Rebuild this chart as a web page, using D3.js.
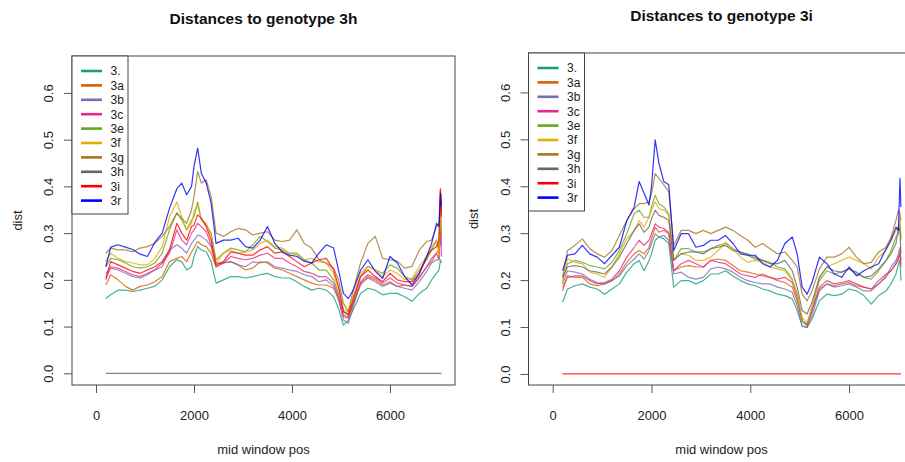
<!DOCTYPE html>
<html>
<head>
<meta charset="utf-8">
<script src="https://cdn.jsdelivr.net/npm/d3@7"></script>
<style>
  body { margin: 0; background: #fff; }
  svg { display: block; font-family: "Liberation Sans", Arial, sans-serif; }
</style>
</head>
<body>
<svg width="905" height="462"></svg>
<script>
// Sliding-window distances

const genotypes = ["3.", "3a", "3b", "3c", "3e", "3f", "3g", "3h", "3i", "3r"];
const xTicks = [0, 2000, 4000, 6000];
const yTicks = [0, 0.1, 0.2, 0.3, 0.4, 0.5, 0.6];

// mid window positions
const pos = [200, 300, 450, 600, 750, 900, 1050, 1200, 1350, 1500,
  1650, 1750, 1850, 1950, 2000, 2075, 2150, 2250, 2350, 2450,
  2600, 2750, 2900, 3050, 3200, 3350, 3500, 3650, 3800, 3950,
  4100, 4250, 4400, 4550, 4700, 4850, 4950, 5050, 5150, 5250,
  5400, 5550, 5700, 5850, 6000, 6150, 6300, 6450, 6600, 6750,
  6850, 6950, 7000, 7030, 7050];

// distances to genotype 3h
const toH_3 = [.16, .168, .178, .178, .175, .178, .182, .186, .20, .228,
  .243, .239, .221, .228, .25, .271, .264, .26, .239, .193,
  .20, .207, .207, .204, .207, .211, .214, .207, .204, .204,
  .196, .186, .178, .182, .178, .164, .139, .103, .114, .136,
  .171, .182, .178, .168, .171, .171, .164, .154, .171, .182,
  .20, .214, .221, .243, .236];
const toH_3a = [.189, .211, .20, .186, .178, .186, .189, .196, .207, .239,
  .246, .25, .239, .26, .268, .282, .275, .271, .257, .228,
  .236, .239, .232, .221, .225, .239, .236, .225, .221, .214,
  .207, .20, .193, .189, .189, .182, .16, .125, .121, .15,
  .189, .207, .20, .189, .196, .186, .189, .186, .207, .228,
  .239, .257, .264, .396, .343];
const toH_3b = [.214, .225, .221, .214, .207, .204, .211, .221, .228, .264,
  .275, .268, .257, .278, .285, .296, .293, .285, .271, .236,
  .236, .239, .232, .228, .239, .236, .239, .228, .225, .221,
  .218, .211, .207, .196, .20, .186, .157, .114, .107, .143,
  .193, .204, .196, .186, .193, .186, .182, .178, .196, .218,
  .236, .243, .243, .307, .271];
const toH_3c = [.20, .228, .225, .218, .211, .207, .214, .221, .236, .257,
  .307, .285, .275, .30, .307, .321, .314, .303, .275, .228,
  .236, .25, .246, .243, .246, .253, .257, .246, .246, .236,
  .228, .218, .214, .207, .207, .193, .164, .121, .118, .15,
  .196, .211, .204, .193, .204, .193, .189, .186, .204, .228,
  .246, .257, .243, .328, .25];
const toH_3e = [.228, .246, .243, .236, .228, .225, .228, .236, .257, .307,
  .343, .328, .307, .328, .335, .367, .328, .317, .30, .243,
  .257, .268, .264, .26, .275, .293, .282, .268, .264, .257,
  .257, .243, .236, .221, .221, .20, .171, .132, .128, .164,
  .207, .229, .221, .214, .232, .225, .207, .20, .221, .243,
  .264, .285, .264, .364, .293];
const toH_3f = [.239, .257, .246, .239, .236, .232, .232, .246, .271, .335,
  .367, .335, .307, .321, .346, .36, .328, .321, .293, .236,
  .257, .264, .257, .26, .264, .278, .285, .271, .268, .257,
  .253, .243, .246, .239, .236, .214, .178, .136, .132, .164,
  .214, .229, .221, .207, .221, .214, .20, .204, .229, .25,
  .271, .285, .25, .378, .307];
const toH_3g = [.257, .268, .264, .264, .26, .268, .271, .278, .293, .314,
  .343, .332, .321, .35, .378, .432, .407, .414, .378, .30,
  .293, .303, .31, .307, .296, .30, .303, .285, .282, .285,
  .307, .278, .268, .243, .236, .225, .20, .15, .132, .178,
  .236, .278, .293, .246, .243, .24, .225, .229, .264, .282,
  .285, .314, .321, .392, .343];
const toH_3h = [0, 0, 0, 0, 0, 0, 0, 0, 0, 0,
  0, 0, 0, 0, 0, 0, 0, 0, 0, 0,
  0, 0, 0, 0, 0, 0, 0, 0, 0, 0,
  0, 0, 0, 0, 0, 0, 0, 0, 0, 0,
  0, 0, 0, 0, 0, 0, 0, 0, 0, 0,
  0, 0, 0, 0, 0];
const toH_3i = [.203, .239, .232, .225, .218, .214, .221, .228, .239, .264,
  .321, .30, .285, .314, .317, .339, .332, .314, .285, .232,
  .239, .26, .257, .253, .253, .264, .271, .257, .26, .25,
  .239, .228, .236, .243, .246, .221, .186, .132, .125, .157,
  .207, .221, .207, .196, .214, .20, .196, .196, .214, .25,
  .264, .271, .285, .392, .335];
const toH_3r = [.228, .27, .275, .27, .265, .255, .25, .28, .30, .353,
  .395, .407, .382, .40, .443, .482, .428, .407, .364, .278,
  .285, .285, .289, .271, .268, .285, .314, .278, .26, .253,
  .25, .24, .236, .257, .275, .268, .221, .171, .16, .178,
  .221, .243, .218, .203, .25, .236, .207, .189, .214, .25,
  .278, .321, .314, .385, .357];

// distances to genotype 3i
const toI_3 = [.153, .181, .188, .192, .185, .181, .17, .181, .192, .217,
  .235, .242, .22, .242, .256, .285, .292, .288, .278, .185,
  .199, .199, .192, .199, .213, .213, .22, .209, .199, .192,
  .188, .181, .177, .17, .167, .16, .135, .102, .099, .117,
  .156, .17, .167, .17, .181, .177, .167, .149, .167, .177,
  .192, .213, .235, .242, .199];
const toI_3a = [.177, .209, .206, .206, .192, .188, .192, .199, .213, .238,
  .256, .263, .256, .27, .288, .313, .302, .306, .299, .22,
  .228, .231, .228, .228, .242, .245, .242, .231, .22, .217,
  .213, .209, .206, .199, .195, .185, .156, .113, .106, .135,
  .181, .192, .188, .192, .195, .188, .185, .181, .192, .209,
  .22, .235, .242, .263, .235];
const toI_3b = [.192, .22, .217, .213, .202, .195, .192, .199, .209, .231,
  .245, .256, .245, .263, .278, .299, .292, .295, .285, .213,
  .217, .206, .202, .206, .224, .228, .224, .217, .206, .199,
  .195, .192, .192, .185, .181, .174, .145, .102, .099, .124,
  .177, .192, .185, .188, .192, .185, .177, .177, .192, .206,
  .228, .242, .256, .27, .242];
const toI_3c = [.185, .206, .209, .209, .199, .192, .195, .202, .22, .249,
  .27, .285, .274, .285, .299, .32, .313, .31, .302, .22,
  .235, .242, .235, .228, .242, .238, .235, .224, .213, .209,
  .206, .213, .206, .202, .206, .195, .163, .113, .102, .135,
  .185, .199, .192, .195, .199, .192, .185, .181, .199, .213,
  .22, .235, .249, .256, .228];
const toI_3e = [.199, .235, .242, .238, .231, .228, .224, .238, .263, .299,
  .342, .349, .334, .334, .356, .381, .363, .356, .342, .242,
  .267, .267, .26, .26, .267, .274, .278, .267, .26, .256,
  .249, .242, .238, .228, .224, .202, .17, .113, .106, .142,
  .199, .22, .213, .217, .224, .213, .206, .202, .22, .242,
  .263, .292, .299, .32, .285];
const toI_3f = [.192, .245, .238, .235, .217, .213, .206, .228, .256, .288,
  .306, .327, .313, .334, .349, .367, .352, .349, .338, .245,
  .256, .253, .242, .242, .249, .263, .281, .267, .249, .238,
  .242, .238, .228, .224, .22, .199, .17, .12, .11, .142,
  .206, .228, .235, .242, .249, .242, .235, .224, .249, .263,
  .285, .306, .313, .334, .292];
const toI_3g = [.206, .263, .274, .288, .267, .256, .249, .263, .295, .327,
  .352, .363, .363, .367, .384, .427, .417, .403, .388, .274,
  .306, .306, .299, .306, .299, .306, .313, .306, .295, .285,
  .27, .278, .267, .256, .26, .242, .228, .17, .156, .177,
  .224, .249, .249, .256, .27, .249, .235, .238, .26, .27,
  .292, .327, .349, .342, .327];
const toI_3h = [.206, .228, .231, .228, .22, .217, .213, .228, .249, .278,
  .306, .32, .302, .313, .331, .349, .338, .334, .327, .242,
  .256, .26, .26, .256, .267, .27, .274, .263, .26, .253,
  .245, .242, .235, .235, .242, .22, .185, .135, .128, .153,
  .206, .228, .22, .217, .224, .217, .206, .209, .224, .242,
  .256, .278, .313, .306, .256];
const toI_3i = [0, 0, 0, 0, 0, 0, 0, 0, 0, 0,
  0, 0, 0, 0, 0, 0, 0, 0, 0, 0,
  0, 0, 0, 0, 0, 0, 0, 0, 0, 0,
  0, 0, 0, 0, 0, 0, 0, 0, 0, 0,
  0, 0, 0, 0, 0, 0, 0, 0, 0, 0,
  0, 0, 0, 0, 0];
const toI_3r = [.22, .253, .256, .274, .256, .249, .235, .253, .27, .327,
  .356, .41, .385, .36, .399, .499, .449, .41, .403, .263,
  .299, .299, .27, .274, .285, .285, .295, .278, .256, .253,
  .253, .235, .228, .242, .278, .292, .256, .185, .17, .195,
  .249, .235, .213, .206, .228, .209, .22, .228, .235, .267,
  .285, .313, .306, .417, .356];

// Dark2 + red + blue, like the R palette
const colors = ["#1B9E77", "#D95F02", "#7570B3", "#E7298A", "#66A61E",
  "#E6AB02", "#A6761D", "#666666", "#FF0000", "#0000FF"];

const svg = d3.select("svg");

const panels = [
  {title: "Distances to genotype 3h", left: 72, right: 455, top: 56, bottom: 385,
   yDom: [-0.025, 0.679], titleY: 23.5, distX: 22,
   series: [toH_3, toH_3a, toH_3b, toH_3c, toH_3e, toH_3f, toH_3g, toH_3h, toH_3i, toH_3r]},
  {title: "Distances to genotype 3i", left: 528.5, right: 914.6, top: 53, bottom: 385,
   yDom: [-0.0235, 0.684], titleY: 21, distX: 478,
   series: [toI_3, toI_3a, toI_3b, toI_3c, toI_3e, toI_3f, toI_3g, toI_3h, toI_3i, toI_3r]}
];

panels.forEach(function(p) {
  const x = d3.scaleLinear().domain([-490, 7327]).range([p.left, p.right]);
  const y = d3.scaleLinear().domain(p.yDom).range([p.bottom, p.top]);
  const g = svg.append("g");

  // curves
  const line = d3.line()
    .x(function(d, i) { return x(pos[i]); })
    .y(function(d) { return y(d); });
  p.series.forEach(function(s, k) {
    g.append("path")
      .attr("d", line(s))
      .attr("fill", "none")
      .attr("stroke", colors[k])
      .attr("stroke-width", 1.2)
      .attr("stroke-opacity", 0.8)
      .attr("stroke-linejoin", "round");
  });

  // axes, R style
  const xa = g.append("g")
    .attr("transform", "translate(0," + p.bottom + ")")
    .call(d3.axisBottom(x).tickValues(xTicks).tickSize(8).tickPadding(18).tickFormat(d3.format("d")));
  const ya = g.append("g")
    .attr("transform", "translate(" + p.left + ",0)")
    .call(d3.axisLeft(y).tickValues(yTicks).tickSize(8).tickFormat(d3.format(".1f")));
  [xa, ya].forEach(function(a) {
    a.select(".domain").remove();
    a.selectAll("line").attr("stroke", "#555");
    a.selectAll("text").attr("fill", "#222").style("font-size", "13px")
      .style("font-family", "'Liberation Sans', Arial, sans-serif");
  });
  ya.selectAll("text")
    .attr("transform", "rotate(-90)")
    .attr("x", 0).attr("y", -19).attr("dy", 0)
    .attr("text-anchor", "middle");

  // box
  g.append("rect")
    .attr("x", p.left).attr("y", p.top)
    .attr("width", p.right - p.left).attr("height", p.bottom - p.top)
    .attr("fill", "none").attr("stroke", "#444").attr("stroke-width", 1);

  // titles and labels
  g.append("text")
    .attr("x", (p.left + p.right) / 2).attr("y", p.titleY)
    .attr("text-anchor", "middle")
    .style("font-size", "15.5px").style("font-weight", "bold")
    .attr("fill", "#111")
    .text(p.title);
  g.append("text")
    .attr("x", (p.left + p.right) / 2).attr("y", 454)
    .attr("text-anchor", "middle")
    .style("font-size", "13px").attr("fill", "#222")
    .text("mid window pos");
  g.append("text")
    .attr("transform", "translate(" + p.distX + "," + ((p.top + p.bottom) / 2) + ") rotate(-90)")
    .attr("text-anchor", "middle")
    .style("font-size", "13px").attr("fill", "#222")
    .text("dist");

  // legend (topleft)
  const lg = g.append("g").attr("transform", "translate(" + p.left + "," + p.top + ")");
  lg.append("rect")
    .attr("width", 56).attr("height", 158)
    .attr("fill", "#fff").attr("stroke", "#444").attr("stroke-width", 1);
  genotypes.forEach(function(name, k) {
    const ly = 15 + k * 14.4;
    lg.append("line")
      .attr("x1", 9).attr("x2", 30).attr("y1", ly).attr("y2", ly)
      .attr("stroke", colors[k]).attr("stroke-width", 2.6);
    lg.append("text")
      .attr("x", 38.5).attr("y", ly).attr("dy", "0.36em")
      .style("font-size", "12px").attr("fill", "#222")
      .text(name);
  });
});
</script>
</body>
</html>
